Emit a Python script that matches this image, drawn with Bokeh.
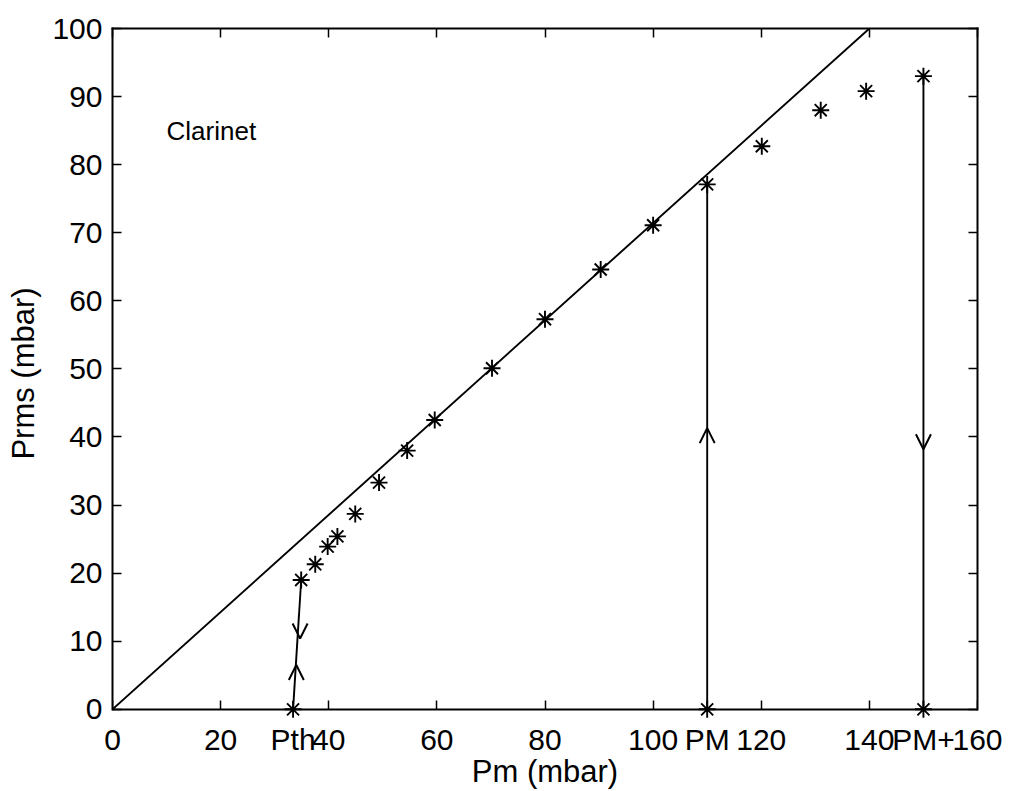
from bokeh.plotting import figure
from bokeh.models import (Range1d, FixedTicker, LinearAxis, Arrow, OpenHead,
                          ColumnDataSource, Label)
from bokeh.embed import file_html
from bokeh.resources import INLINE

# ---- data ----
pm = [34.9, 37.5, 39.8, 41.6, 44.9, 49.3, 54.5, 59.6, 70.2, 80.0, 90.3,
      100.0, 110.0, 120.1, 131.0, 139.4, 150.0]
prms = [19.0, 21.3, 23.9, 25.4, 28.7, 33.3, 38.0, 42.5, 50.1, 57.3, 64.6,
        71.1, 77.1, 82.7, 88.0, 90.8, 93.0]
thr_names = ["Pth", "PM", "PM+"]
thr_pm = [33.4, 110.0, 150.0]
thr_prms = [0.0, 0.0, 0.0]
thr_link = [0, 12, 16]          # index of the oscillating point reached
ref_x = [0.0, 140.0]            # reference line Prms ~ Pm/sqrt(2)
ref_y = [0.0, 100.0]
arrow_x = [34.0, 34.7, 110.0, 150.0]
arrow_y = [6.5, 10.4, 41.3, 38.2]
arrow_dir = [1, -1, 1, -1]
x_ticks = [0, 20, 40, 60, 80, 100, 120, 140, 160]
y_ticks = [0, 10, 20, 30, 40, 50, 60, 70, 80, 90, 100]
x_min, x_max = 0, 160
y_min, y_max = 0, 100

FONT = "Liberation Sans"
TICK_FS = "30px"
LAB_FS = "31px"
LW = 1.9

# frame reaches slightly below y=0 so the markers on the axis are not clipped
p = figure(width=1009, height=791, output_backend="svg", toolbar_location=None,
           x_range=Range1d(x_min, x_max), y_range=Range1d(y_min - 1.35, y_max),
           min_border_left=112, min_border_right=32, min_border_top=28,
           min_border_bottom=73)
p.grid.visible = False
p.background_fill_color = "white"
p.border_fill_color = "white"
p.outline_line_color = None


def line_axis(ax, ticks):
    ax.ticker = FixedTicker(ticks=ticks)
    ax.axis_line_width = 2
    ax.axis_line_color = "black"
    ax.axis_line_cap = "square"
    ax.major_tick_in = 9
    ax.major_tick_out = 0
    ax.major_tick_line_width = 1.5
    ax.major_tick_line_color = "black"
    ax.minor_tick_line_color = None
    ax.major_label_overrides = {t: "" for t in ticks}
    ax.major_label_text_font_size = "0px"
    ax.major_label_standoff = 0


# left axis: line, ticks and labels
ya = p.yaxis[0]
ya.ticker = FixedTicker(ticks=y_ticks)
ya.bounds = (y_min, y_max)
ya.axis_line_width = 2
ya.axis_line_cap = "square"
ya.major_tick_in = 9
ya.major_tick_out = 0
ya.major_tick_line_width = 1.5
ya.minor_tick_line_color = None
ya.major_label_text_font = FONT
ya.major_label_text_font_size = TICK_FS
ya.major_label_text_color = "black"
ya.major_label_standoff = 10
ya.axis_label = "Prms (mbar)"
ya.axis_label_text_font = FONT
ya.axis_label_text_font_size = LAB_FS
ya.axis_label_text_font_style = "normal"
ya.axis_label_text_color = "black"
ya.axis_label_standoff = 8

# bottom axis in the panel: tick numbers plus the threshold names
xa = p.xaxis[0]
xa.ticker = FixedTicker(ticks=x_ticks + thr_pm)
xa.major_label_overrides = {v: n for v, n in zip(thr_pm, thr_names)}
xa.axis_line_color = None
xa.major_tick_line_color = None
xa.minor_tick_line_color = None
xa.major_tick_in = 0
xa.major_tick_out = 0
xa.major_label_text_font = FONT
xa.major_label_text_font_size = TICK_FS
xa.major_label_text_color = "black"
xa.major_label_standoff = 4
xa.axis_label = "Pm (mbar)"
xa.axis_label_text_font = FONT
xa.axis_label_text_font_size = LAB_FS
xa.axis_label_text_font_style = "normal"
xa.axis_label_text_color = "black"
xa.axis_label_standoff = -5

# bottom axis line with inward ticks, pinned at y = 0
bottom = LinearAxis(fixed_location=y_min)
line_axis(bottom, x_ticks)
p.add_layout(bottom, "below")

top = LinearAxis()
line_axis(top, x_ticks)
p.add_layout(top, "above")

right = LinearAxis(bounds=(y_min, y_max))
line_axis(right, y_ticks)
p.add_layout(right, "right")

# reference line
p.line(ref_x, ref_y, line_color="black", line_width=LW)

# transition lines
for i, k in enumerate(thr_link):
    p.line([thr_pm[i], pm[k]], [thr_prms[i], prms[k]], line_color="black",
           line_width=LW)

# measured points
p.scatter(pm, prms, marker="asterisk", size=17, line_color="black",
          line_width=LW)
p.scatter(thr_pm, thr_prms, marker="asterisk", size=17, line_color="black",
          line_width=LW)

# arrow heads
asrc = ColumnDataSource(dict(
    x0=arrow_x, x1=arrow_x,
    y0=[y - d for y, d in zip(arrow_y, arrow_dir)],
    y1=arrow_y))
p.add_layout(Arrow(end=OpenHead(size=15, line_width=2, line_color="black"),
                   x_start="x0", y_start="y0", x_end="x1", y_end="y1",
                   source=asrc, line_color=None))

p.add_layout(Label(x=10, y=85, text="Clarinet", text_baseline="middle",
                   text_font=FONT, text_font_size="26px", text_color="black"))

open("out.html", "w").write(file_html(p, INLINE))
